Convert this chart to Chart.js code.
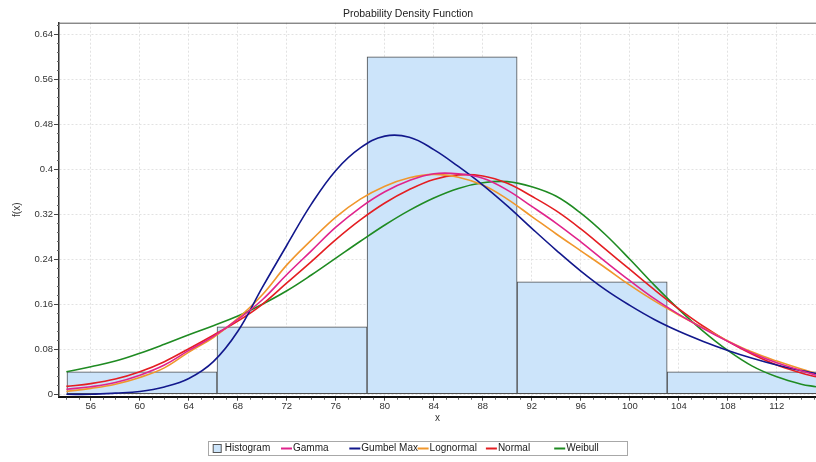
<!DOCTYPE html>
<html>
<head>
<meta charset="utf-8">
<title>Probability Density Function</title>
<script src="https://cdn.jsdelivr.net/npm/chart.js@4.4.1/dist/chart.umd.min.js"></script>
<style>
  html, body { margin: 0; padding: 0; background: #fff; }
</style>
</head>
<body>
<canvas id="pdf" width="816" height="462"></canvas>
<script>
const xPoints = [54, 56, 58, 60, 62, 64, 66, 68, 70, 72, 74, 76, 78, 80, 82, 84,
                 86, 88, 90, 92, 94, 96, 98, 100, 102, 104, 106, 108, 110, 112, 114, 115.2];

const gamma     = [0.009, 0.0135, 0.021, 0.034, 0.052, 0.078, 0.103, 0.133, 0.168, 0.213, 0.255, 0.297, 0.332, 0.360, 0.380, 0.392,
                   0.392, 0.384, 0.363, 0.334, 0.304, 0.271, 0.236, 0.202, 0.170, 0.142, 0.117, 0.094, 0.073, 0.056, 0.042, 0.034];
const gumbelMax = [0.000, 0.000, 0.002, 0.005, 0.013, 0.028, 0.058, 0.112, 0.190, 0.265, 0.338, 0.398, 0.438, 0.459, 0.457, 0.435,
                   0.405, 0.372, 0.335, 0.295, 0.256, 0.219, 0.186, 0.158, 0.133, 0.112, 0.094, 0.078, 0.064, 0.052, 0.042, 0.037];
const lognormal = [0.005, 0.0105, 0.018, 0.030, 0.047, 0.075, 0.101, 0.135, 0.177, 0.230, 0.274, 0.315, 0.347, 0.370, 0.385, 0.391,
                   0.386, 0.372, 0.347, 0.316, 0.285, 0.255, 0.225, 0.194, 0.166, 0.141, 0.118, 0.095, 0.075, 0.059, 0.045, 0.037];
const normal    = [0.014, 0.019, 0.027, 0.040, 0.058, 0.081, 0.105, 0.130, 0.160, 0.198, 0.236, 0.275, 0.310, 0.340, 0.364, 0.382,
                   0.390, 0.388, 0.375, 0.352, 0.326, 0.294, 0.258, 0.222, 0.186, 0.152, 0.121, 0.094, 0.071, 0.052, 0.038, 0.031];
const weibull   = [0.040, 0.049, 0.059, 0.073, 0.089, 0.106, 0.122, 0.139, 0.160, 0.184, 0.212, 0.242, 0.272, 0.301, 0.327, 0.349,
                   0.366, 0.376, 0.378, 0.369, 0.352, 0.322, 0.284, 0.240, 0.194, 0.151, 0.112, 0.078, 0.050, 0.031, 0.018, 0.0135];

// histogram bins
const binEdges   = [54.05, 66.3, 78.55, 90.8, 103.05, 115.3];
const binHeights = [0.04, 0.12, 0.60, 0.20, 0.04];

const xTicks = [56, 60, 64, 68, 72, 76, 80, 84, 88, 92, 96, 100, 104, 108, 112];
const yTicks = [0, 0.08, 0.16, 0.24, 0.32, 0.4, 0.48, 0.56, 0.64];

const seriesNames = ["Histogram", "Gamma", "Gumbel Max", "Lognormal", "Normal", "Weibull"];

const FONT = '"Liberation Sans", Arial, sans-serif';

function curve(values) {
  return xPoints.map((x, i) => ({ x: x, y: values[i] }));
}

const bins = binHeights.map((h, i) => ({ x: (binEdges[i] + binEdges[i + 1]) / 2, y: h }));

// khung trên + vạch phụ của trục
const frame = {
  id: 'frame',
  afterDraw(chart) {
    const c = chart.ctx, a = chart.chartArea;
    const sx = chart.scales.x, sy = chart.scales.y;
    c.save();
    c.strokeStyle = '#555';
    c.lineWidth = 1;
    c.beginPath();
    c.moveTo(a.left, a.top + 0.5);
    c.lineTo(a.right, a.top + 0.5);
    c.stroke();
    c.strokeStyle = '#666';
    c.beginPath();
    for (let v = 54; v <= 115; v++) {
      if (xTicks.includes(v)) continue;
      const px = Math.round(sx.getPixelForValue(v)) + 0.5;
      c.moveTo(px, a.bottom + 1);
      c.lineTo(px, a.bottom + 3);
    }
    for (let k = 1; k <= 41; k++) {
      if (k % 5 === 0) continue;
      const py = Math.round(sy.getPixelForValue(k * 0.016)) + 0.5;
      c.moveTo(a.left - 2, py);
      c.lineTo(a.left, py);
    }
    c.stroke();
    c.restore();
  }
};

// legend in a box, fixed columns
const boxLegend = {
  id: 'boxLegend',
  afterDraw(chart) {
    const c = chart.ctx;
    const left = 212.7, colW = 68.3, yMid = 448.5;
    c.save();
    c.strokeStyle = '#a8a8a8';
    c.lineWidth = 1;
    c.strokeRect(208.5, 441.5, 419, 14);
    c.font = '10px ' + FONT;
    c.textBaseline = 'middle';
    chart.data.datasets.forEach((ds, i) => {
      const x = left + i * colW;
      if (ds.type === 'bar') {
        c.fillStyle = ds.backgroundColor;
        c.fillRect(x + 0.5, yMid - 4, 8, 8);
        c.strokeStyle = '#555';
        c.strokeRect(x + 0.5, yMid - 4, 8, 8);
      } else {
        c.strokeStyle = ds.borderColor;
        c.lineWidth = 2;
        c.beginPath();
        c.moveTo(x, yMid);
        c.lineTo(x + 11, yMid);
        c.stroke();
      }
      c.fillStyle = '#222';
      c.fillText(ds.label, x + 12, yMid);
    });
    c.restore();
  }
};

const lineStyle = { type: 'line', pointRadius: 0, borderWidth: 1.6, fill: false,
                    tension: 0.4, order: 1 };

new Chart(document.getElementById('pdf').getContext('2d'), {
  type: 'bar',
  data: {
    datasets: [
      { type: 'bar', label: seriesNames[0], data: bins, backgroundColor: '#cce4fa',
        borderColor: '#4d4d4d', borderWidth: 1, borderSkipped: false,
        barThickness: 'flex', barPercentage: 1, categoryPercentage: 1, order: 10 },
      Object.assign({ label: seriesNames[1], data: curve(gamma), borderColor: '#e0248c' }, lineStyle),
      Object.assign({ label: seriesNames[2], data: curve(gumbelMax), borderColor: '#12188c' }, lineStyle),
      Object.assign({ label: seriesNames[3], data: curve(lognormal), borderColor: '#f0972c' }, lineStyle),
      Object.assign({ label: seriesNames[4], data: curve(normal), borderColor: '#e41e22' }, lineStyle),
      Object.assign({ label: seriesNames[5], data: curve(weibull), borderColor: '#1f8b22' }, lineStyle)
    ]
  },
  options: {
    responsive: false,
    animation: false,
    layout: { padding: { top: 0, right: 0, bottom: 37.3, left: 0 } },
    plugins: {
      legend: { display: false },
      tooltip: { enabled: false },
      title: {
        display: true,
        text: 'Probability Density Function',
        color: '#222',
        font: { family: FONT, size: 10.5, weight: 'normal' },
        padding: { top: 7.5, bottom: 2.6 }
      }
    },
    scales: {
      x: {
        type: 'linear',
        min: 53.4,
        max: 115.2,
        offset: false,
        afterBuildTicks: s => { s.ticks = xTicks.map(v => ({ value: v })); },
        afterFit: s => { s.height = 28; },
        ticks: { autoSkip: false, maxRotation: 0, padding: 0, color: '#333',
                 font: { family: FONT, size: 9.5 } },
        grid: { offset: false, color: '#e2e2e2', tickColor: '#444', tickLength: 4 },
        border: { color: '#111', width: 2, dash: [2, 2] },
        title: { display: true, text: 'x', color: '#333', padding: 0,
                 font: { family: FONT, size: 10 } }
      },
      y: {
        min: -0.0043,
        max: 0.6606,
        afterBuildTicks: s => { s.ticks = yTicks.map(v => ({ value: v })); },
        afterFit: s => { s.width = 59; },
        ticks: { autoSkip: false, padding: 1, color: '#333',
                 font: { family: FONT, size: 9.5 },
                 callback: v => String(+v.toFixed(2)) },
        grid: { color: '#e2e2e2', tickColor: '#444', tickLength: 5 },
        border: { color: '#333', width: 1.5, dash: [2, 2] },
        title: { display: true, text: 'f(x)', color: '#333', padding: { top: 11 },
                 font: { family: FONT, size: 10 } }
      }
    }
  },
  plugins: [frame, boxLegend]
});
</script>
</body>
</html>
